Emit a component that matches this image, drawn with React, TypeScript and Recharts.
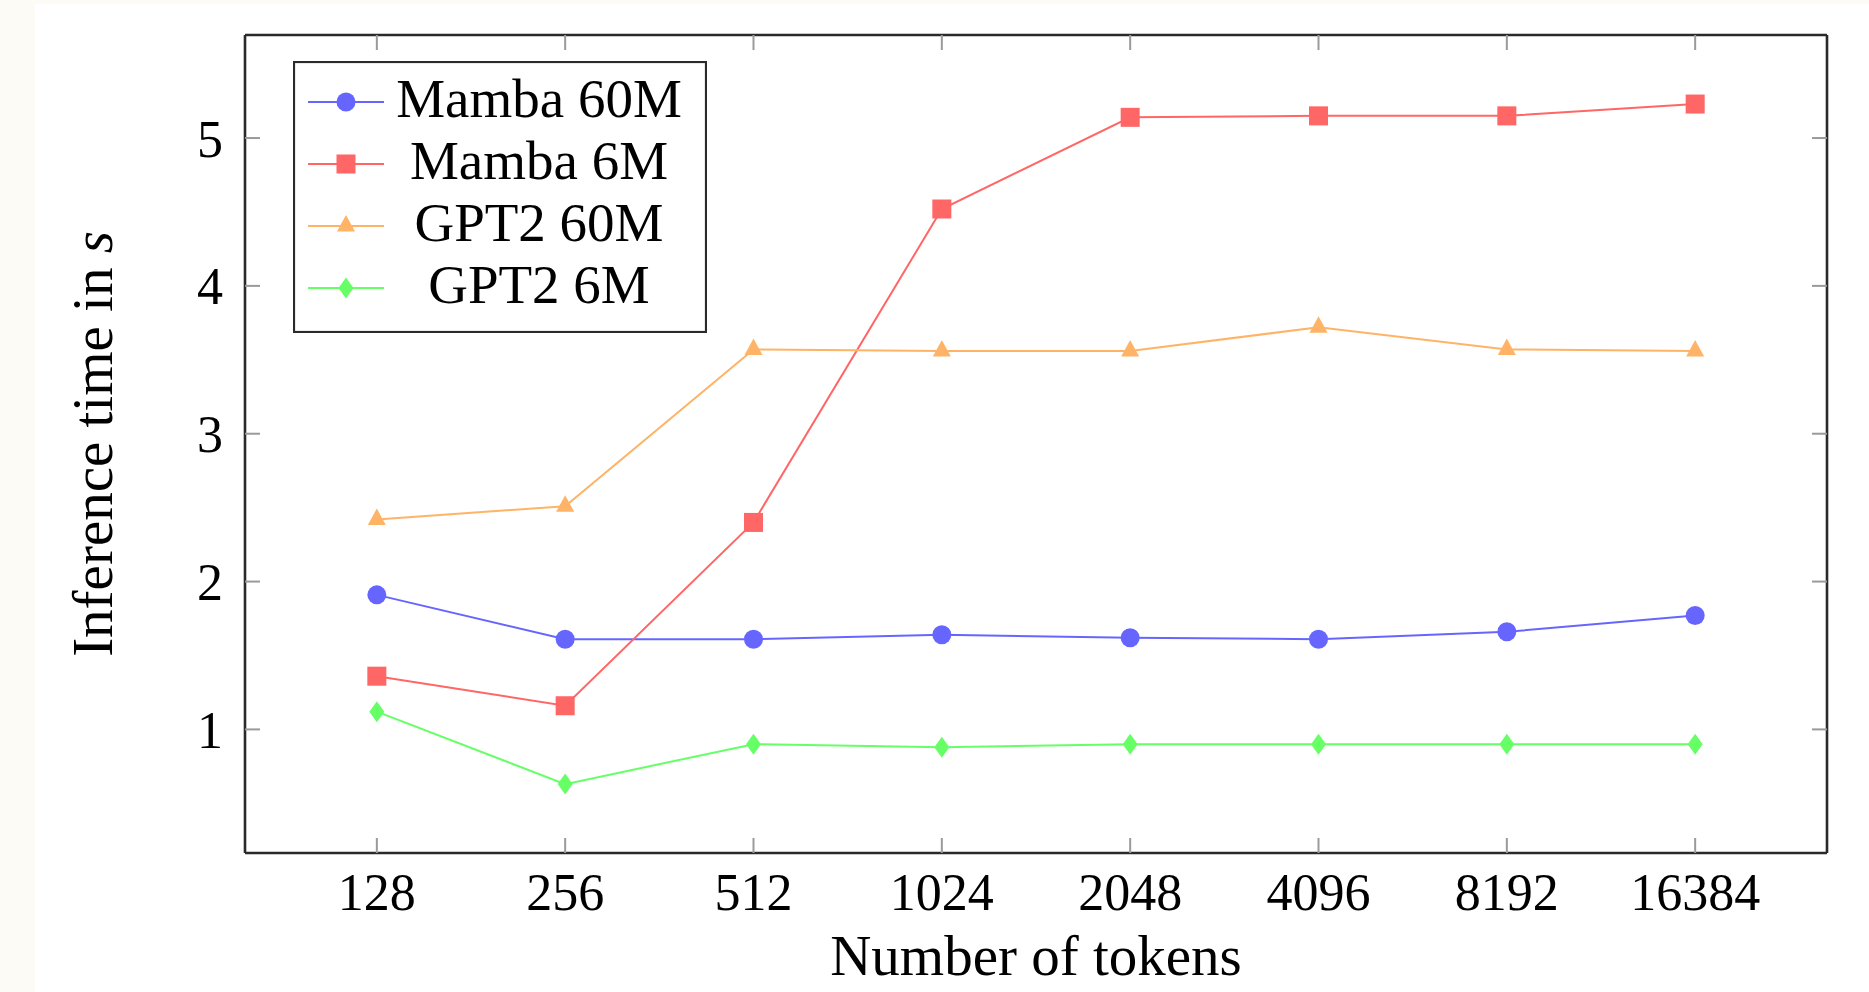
import { LineChart, Line, XAxis, YAxis, Legend, Label } from 'recharts';

// token counts on the x axis (plotted at evenly spaced positions)
const tokens = ['128', '256', '512', '1024', '2048', '4096', '8192', '16384'];

// inference time in seconds
const mamba60M = [1.91, 1.61, 1.61, 1.64, 1.62, 1.61, 1.66, 1.77];
const mamba6M = [1.36, 1.16, 2.40, 4.52, 5.14, 5.15, 5.15, 5.23];
const gpt2_60M = [2.42, 2.51, 3.57, 3.56, 3.56, 3.72, 3.57, 3.56];
const gpt2_6M = [1.12, 0.63, 0.90, 0.88, 0.90, 0.90, 0.90, 0.90];

const yTicks = [1, 2, 3, 4, 5];
const xTicks = tokens.map((_, i) => i);

const FONT = '"Liberation Serif", "DejaVu Serif", serif';
const FRAME = '#2a2a2a';
const TICK = '#9a9a9a';

const SERIES = [
  { key: 'mamba60M', name: 'Mamba 60M', color: '#6666ff', shape: 'circle' },
  { key: 'mamba6M', name: 'Mamba 6M', color: '#ff6666', shape: 'square' },
  { key: 'gpt2_60M', name: 'GPT2 60M', color: '#ffb366', shape: 'triangle' },
  { key: 'gpt2_6M', name: 'GPT2 6M', color: '#66ff66', shape: 'diamond' },
];

const data = tokens.map((t, i) => ({
  idx: i,
  tokens: t,
  mamba60M: mamba60M[i],
  mamba6M: mamba6M[i],
  gpt2_60M: gpt2_60M[i],
  gpt2_6M: gpt2_6M[i],
}));

function Marker({ shape, cx, cy, color }: { shape: string; cx: number; cy: number; color: string }) {
  if (shape === 'circle') return <ellipse cx={cx} cy={cy} rx={9.5} ry={9.5} fill={color} />;
  if (shape === 'square') return <rect x={cx - 9.5} y={cy - 9.5} width={19} height={19} fill={color} />;
  if (shape === 'triangle')
    return <polygon points={`${cx},${cy - 11} ${cx + 9},${cy + 5.5} ${cx - 9},${cy + 5.5}`} fill={color} />;
  return <polygon points={`${cx},${cy - 10.5} ${cx + 7.5},${cy} ${cx},${cy + 10.5} ${cx - 7.5},${cy}`} fill={color} />;
}

const makeDot = (shape: string, color: string) => (props: any) => {
  const { cx, cy, index } = props;
  if (cx == null || cy == null) return <g key={`d-${shape}-${index}`} />;
  return (
    <g key={`d-${shape}-${index}`}>
      <Marker shape={shape} cx={cx} cy={cy} color={color} />
    </g>
  );
};

// legend keeps the plotting order, not the alphabetical one
const LegendBox = ({ payload }: any) => {
  const names = (payload || []).map((p: any) => p.value);
  const rows = SERIES.filter(s => names.includes(s.name));
  return (
    <svg width={414} height={272} style={{ display: 'block' }}>
      <rect x={1} y={1} width={412} height={270} fill="#fff" stroke={FRAME} strokeWidth={2.2} />
      {rows.map((s, i) => {
        const cy = 41 + i * 62;
        return (
          <g key={s.key}>
            <line x1={15} x2={91} y1={cy} y2={cy} stroke={s.color} strokeWidth={2} />
            <Marker shape={s.shape} cx={53} cy={cy} color={s.color} />
            <text x={246} y={cy + 15} textAnchor="middle" fontSize={55} fontFamily={FONT} fill="#000">
              {s.name}
            </text>
          </g>
        );
      })}
    </svg>
  );
};

const axisTick = { fontSize: 52, fill: '#000', fontFamily: FONT };
const noTick = () => <g />;

export default function App() {
  return (
    <div style={{ position: 'relative', width: 1869, height: 992, background: '#fdfbf6', overflow: 'hidden' }}>
      <style>{'body{margin:0}'}</style>
      <div style={{ position: 'absolute', left: 35, top: 4, right: 0, bottom: 0, background: '#fff' }} />
      <div style={{ position: 'absolute', left: 0, top: 0 }}>
        <LineChart width={1869} height={992} data={data} margin={{ top: 34, right: 41, bottom: 138, left: 244 }}>
          <XAxis
            xAxisId="b"
            dataKey="idx"
            type="number"
            domain={[-0.7, 7.7]}
            ticks={xTicks}
            interval={0}
            tickFormatter={(v: number) => tokens[v] ?? ''}
            height={1}
            tickSize={-15}
            tickMargin={35}
            tick={axisTick}
            tickLine={{ stroke: TICK, strokeWidth: 2 }}
            axisLine={{ stroke: FRAME, strokeWidth: 2.6 }}
          >
            <Label
              content={({ viewBox }: any) => (
                <text
                  x={viewBox.x + viewBox.width / 2}
                  y={viewBox.y + 122}
                  textAnchor="middle"
                  fontSize={57}
                  fontFamily={FONT}
                  fill="#000"
                >
                  Number of tokens
                </text>
              )}
            />
          </XAxis>
          <XAxis
            xAxisId="t"
            orientation="top"
            dataKey="idx"
            type="number"
            domain={[-0.7, 7.7]}
            ticks={xTicks}
            interval={0}
            height={1}
            tickSize={-15}
            tick={noTick}
            tickLine={{ stroke: TICK, strokeWidth: 2 }}
            axisLine={{ stroke: FRAME, strokeWidth: 2.6 }}
          />
          <YAxis
            yAxisId="l"
            type="number"
            domain={[0.164, 5.697]}
            allowDataOverflow
            ticks={yTicks}
            interval={0}
            width={1}
            tickSize={-15}
            tickMargin={37}
            tick={axisTick}
            tickLine={{ stroke: TICK, strokeWidth: 2 }}
            axisLine={{ stroke: FRAME, strokeWidth: 2.6 }}
          >
            <Label
              content={({ viewBox }: any) => {
                const cx = viewBox.x - 132;
                const cy = viewBox.y + viewBox.height / 2;
                return (
                  <text
                    x={cx}
                    y={cy}
                    textAnchor="middle"
                    transform={`rotate(-90 ${cx} ${cy})`}
                    fontSize={57}
                    fontFamily={FONT}
                    fill="#000"
                  >
                    Inference time in <tspan fontStyle="italic">s</tspan>
                  </text>
                );
              }}
            />
          </YAxis>
          <YAxis
            yAxisId="r"
            orientation="right"
            type="number"
            domain={[0.164, 5.697]}
            allowDataOverflow
            ticks={yTicks}
            interval={0}
            width={1}
            tickSize={-15}
            tick={noTick}
            tickLine={{ stroke: TICK, strokeWidth: 2 }}
            axisLine={{ stroke: FRAME, strokeWidth: 2.6 }}
          />
          <Legend
            layout="vertical"
            align="center"
            verticalAlign="middle"
            content={<LegendBox />}
            wrapperStyle={{ left: 293, top: 61, width: 414, height: 272 }}
          />
          {SERIES.map(s => (
            <Line
              key={s.key}
              xAxisId="b"
              yAxisId="l"
              dataKey={s.key}
              name={s.name}
              stroke={s.color}
              strokeWidth={2}
              dot={makeDot(s.shape, s.color)}
              activeDot={false}
              isAnimationActive={false}
            />
          ))}
        </LineChart>
      </div>
    </div>
  );
}
